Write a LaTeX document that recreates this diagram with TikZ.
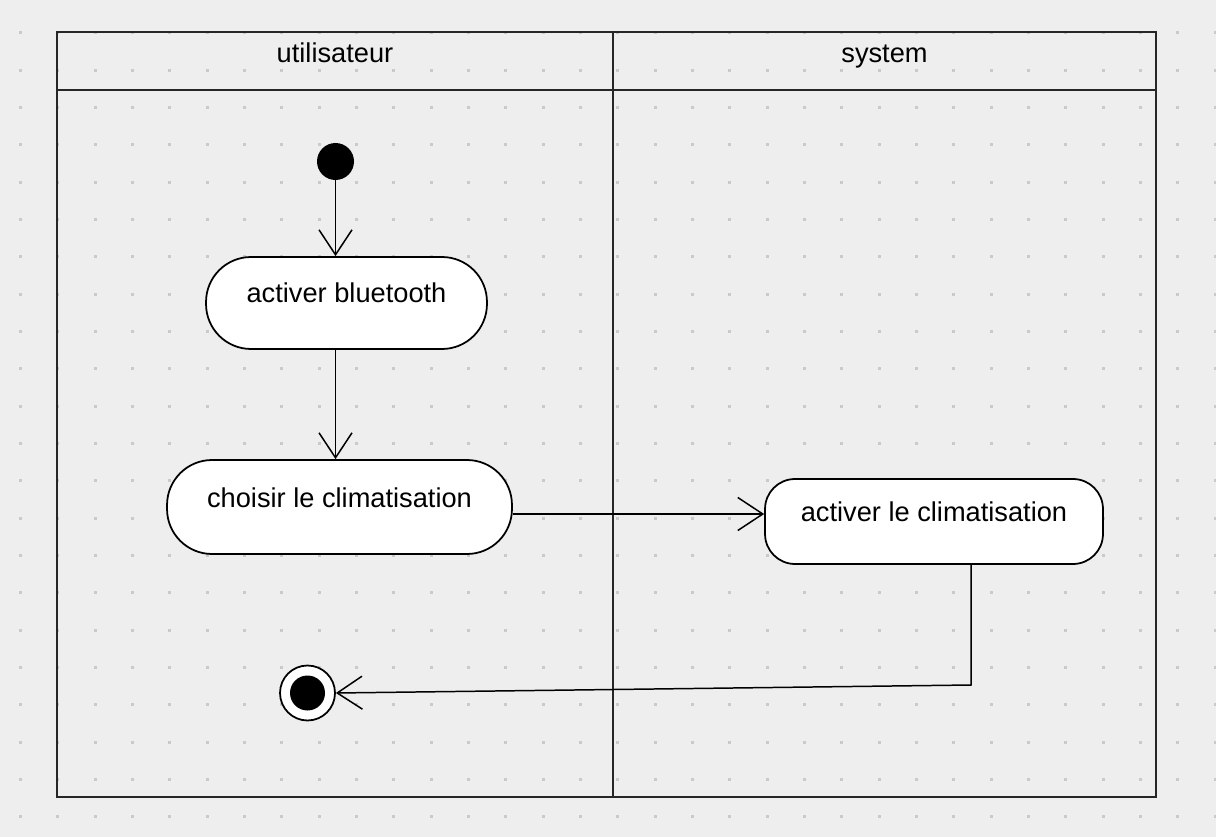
\documentclass[tikz,border=0pt]{standalone}
\usepackage{fontspec}
\setmainfont{Liberation Sans}
\usepackage{tikz}
\usetikzlibrary{arrows.meta}
\definecolor{canvas}{HTML}{EEEEEE}
\definecolor{griddot}{HTML}{CACACA}

\begin{document}
\begin{tikzpicture}[x=0.02cm,y=-0.02cm,
    lane/.style={line width=1.1pt,draw=black!85},
    action/.style={draw,line width=1pt,fill=white,font=\fontsize{15.5}{18}\selectfont,text height=11pt,text depth=11pt,inner sep=0pt},
    flow/.style={-{Straight Barb[length=0.5cm,width=0.66cm]},line width=0.85pt}]
    % Canvas and dotted grid
    \fill[canvas] (0,0) rectangle (1216,837);
    \useasboundingbox (0,0) rectangle (1216,837);
    \foreach \i in {0,...,32}
        \foreach \j in {0,...,21}
            \fill[griddot] ({19+37.33*\i},{31.5+37.33*\j}) rectangle ++(3,3);

    % Swimlanes
    \draw[lane] (57,32) rectangle (1156,797);
    \draw[lane] (57,90) -- (1156,90); % header line
    \draw[lane] (613,32) -- (613,797); % lane divider
    \node[anchor=base,font=\fontsize{15.5}{18}\selectfont] (user) at (335,63) {utilisateur};
    \node[anchor=base,font=\fontsize{15.5}{18}\selectfont] (system) at (884.5,63) {system};

    % Initial and final states
    \node[circle,fill=black,minimum size=0.74cm,inner sep=0pt] (start) at (335.5,161.5) {};
    \node[circle,draw,line width=1pt,fill=white,minimum size=1.1cm,inner sep=0pt] (end) at (307.5,693) {};
    \node[circle,fill=black,minimum size=0.7cm,inner sep=0pt] (endDot) at (end) {};

    % Actions
    \node[action,minimum width=5.62cm,minimum height=1.84cm,rounded corners=0.9cm] (bluetooth) at (346.5,303) {activer bluetooth};
    \node[action,minimum width=6.9cm,minimum height=1.88cm,rounded corners=0.9cm] (choisir) at (339.5,507) {choisir le climatisation};
    \node[action,minimum width=6.76cm,minimum height=1.7cm,rounded corners=0.6cm] (activer) at (934,521.5) {activer le climatisation};

    % Transitions
    \coordinate (link) at (640,514);
    \coordinate (turn) at (971,685);
    \draw[flow] (start.south) -- (start.south |- bluetooth.north);
    \draw[flow] (bluetooth.south -| start) -- (choisir.north -| start);
    \draw[flow] (choisir.east |- link) -- (activer.west |- link);
    \draw[flow] (activer.south -| turn) -- (turn) -- (end.east);
\end{tikzpicture}
\end{document}
